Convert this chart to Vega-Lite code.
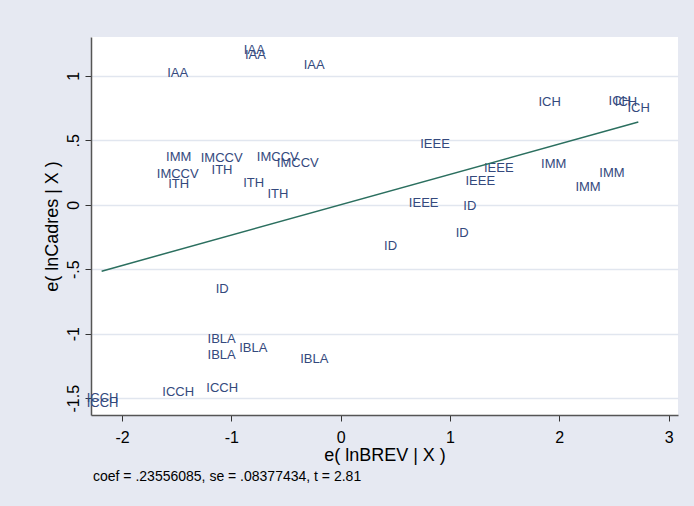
{
  "$schema": "https://vega.github.io/schema/vega-lite/v6.json",
  "width": 587,
  "height": 378,
  "autosize": {"type": "none"},
  "padding": {"left": 91, "top": 37, "right": 16, "bottom": 91},
  "background": "#e6e9f2",
  "config": {"font": "Liberation Sans", "view": {"fill": "white", "stroke": null}},
  "title": {"text": "coef = .23556085, se = .08377434, t = 2.81", "orient": "bottom", "anchor": "start", "frame": "group", "fontSize": 14, "fontWeight": "normal", "color": "#000000", "offset": 6, "dx": 2},
  "datasets": {
    "points": [
      {"label": "IAA", "x": -1.491, "y": 1.019},
      {"label": "IAA", "x": -0.79, "y": 1.198},
      {"label": "IAA", "x": -0.78, "y": 1.160},
      {"label": "IAA", "x": -0.242, "y": 1.083},
      {"label": "IMM", "x": -1.482, "y": 0.372},
      {"label": "IMCCV", "x": -1.089, "y": 0.360},
      {"label": "IMCCV", "x": -1.491, "y": 0.238},
      {"label": "ITH", "x": -1.086, "y": 0.269},
      {"label": "ITH", "x": -1.482, "y": 0.160},
      {"label": "IMCCV", "x": -0.576, "y": 0.372},
      {"label": "IMCCV", "x": -0.393, "y": 0.321},
      {"label": "ITH", "x": -0.796, "y": 0.166},
      {"label": "ITH", "x": -0.574, "y": 0.083},
      {"label": "ICH", "x": 1.912, "y": 0.794},
      {"label": "ICH", "x": 2.553, "y": 0.806},
      {"label": "ICH", "x": 2.61, "y": 0.798},
      {"label": "ICH", "x": 2.726, "y": 0.747},
      {"label": "IEEE", "x": 0.863, "y": 0.471},
      {"label": "IEEE", "x": 1.446, "y": 0.282},
      {"label": "IEEE", "x": 1.277, "y": 0.184},
      {"label": "IEEE", "x": 0.759, "y": 0.011},
      {"label": "IMM", "x": 1.949, "y": 0.316},
      {"label": "IMM", "x": 2.482, "y": 0.243},
      {"label": "IMM", "x": 2.263, "y": 0.135},
      {"label": "ID", "x": 1.181, "y": -0.010},
      {"label": "ID", "x": 1.112, "y": -0.222},
      {"label": "ID", "x": 0.456, "y": -0.320},
      {"label": "ID", "x": -1.084, "y": -0.656},
      {"label": "IBLA", "x": -1.089, "y": -1.043},
      {"label": "IBLA", "x": -1.089, "y": -1.165},
      {"label": "IBLA", "x": -0.8, "y": -1.109},
      {"label": "IBLA", "x": -0.242, "y": -1.198},
      {"label": "ICCH", "x": -1.487, "y": -1.450},
      {"label": "ICCH", "x": -1.084, "y": -1.423},
      {"label": "ICCH", "x": -2.179, "y": -1.501},
      {"label": "ICCH", "x": -2.179, "y": -1.540}
    ],
    "fit": [
      {"x": -2.187, "y": -0.515},
      {"x": 2.723, "y": 0.641}
    ]
  },
  "layer": [
    {
      "data": {"name": "points"},
      "mark": {"type": "text", "fontSize": 13, "color": "#34497d", "align": "center", "baseline": "middle"},
      "encoding": {
        "x": {
          "field": "x", "type": "quantitative",
          "scale": {"domain": [-2.2845, 3.086], "nice": false, "zero": false},
          "axis": {
            "title": "e( lnBREV | X )", "values": [-2, -1, 0, 1, 2, 3], "grid": false,
            "labelExpr": "datum.value + ''",
            "domainColor": "#555555", "domainWidth": 1.5, "tickColor": "#333333", "tickSize": 6,
            "labelFontSize": 16, "labelColor": "#000000", "labelPadding": 8,
            "titleFontSize": 18, "titleFontWeight": "normal", "titleColor": "#000000", "titlePadding": 1
          }
        },
        "y": {
          "field": "y", "type": "quantitative",
          "scale": {"domain": [-1.63, 1.3], "nice": false, "zero": false},
          "axis": {
            "title": "e( lnCadres | X )", "values": [-1.5, -1, -0.5, 0, 0.5, 1],
            "labelExpr": "replace(datum.value + '', '0.', '.')",
            "grid": true, "gridColor": "#e1e6ef", "gridWidth": 1.5,
            "domainColor": "#555555", "domainWidth": 1.5, "tickColor": "#333333", "tickSize": 6,
            "labelAngle": -90, "labelAlign": "center", "labelBaseline": "bottom",
            "labelFontSize": 16, "labelColor": "#000000", "labelPadding": 4,
            "titleFontSize": 18, "titleFontWeight": "normal", "titleColor": "#000000", "titlePadding": 4
          }
        },
        "text": {"field": "label"}
      }
    },
    {
      "data": {"name": "fit"},
      "mark": {"type": "line", "color": "#2b6f5f", "strokeWidth": 1.5},
      "encoding": {
        "x": {"field": "x", "type": "quantitative"},
        "y": {"field": "y", "type": "quantitative"}
      }
    }
  ]
}
